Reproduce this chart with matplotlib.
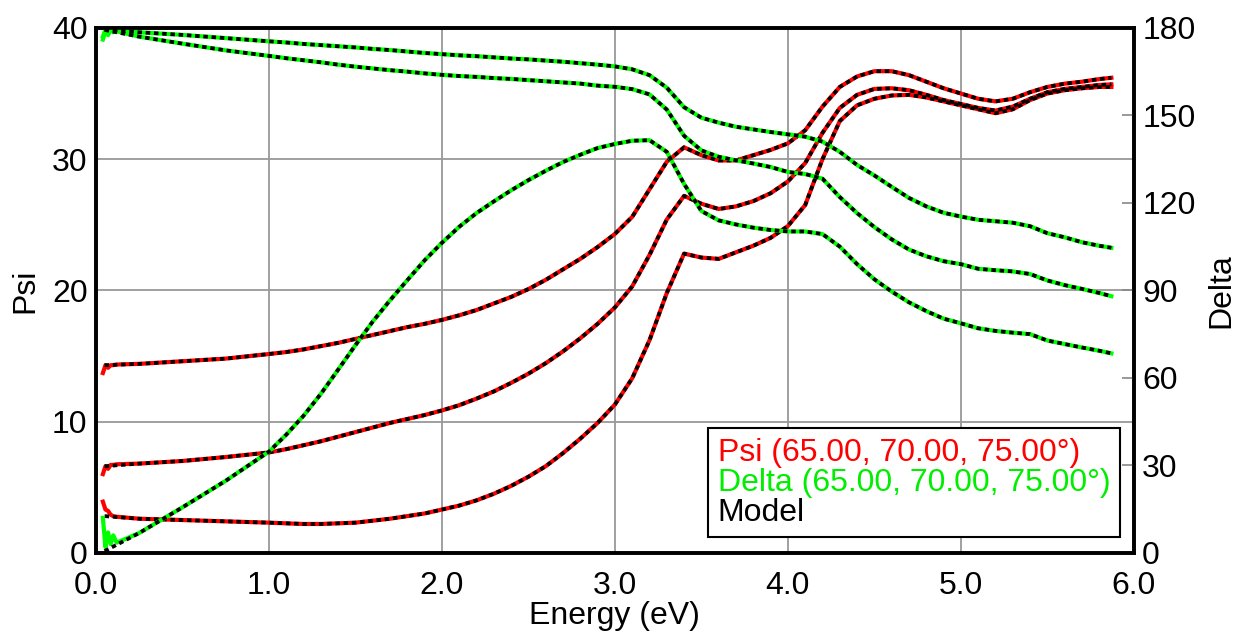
#!/usr/bin/env python3
import matplotlib
matplotlib.use("Agg")
import matplotlib.pyplot as plt
from matplotlib.lines import Line2D

plt.rcParams['font.family'] = ['Liberation Sans', 'DejaVu Sans']

# Photon energy (eV), shared by all curves
energy = [0.05, 0.25, 0.5, 0.75,
          1.0, 1.1, 1.2, 1.3, 1.4, 1.5, 1.6, 1.7, 1.8, 1.9,
          2.0, 2.1, 2.2, 2.3, 2.4, 2.5, 2.6, 2.7, 2.8, 2.9,
          3.0, 3.1, 3.2, 3.3, 3.4, 3.5, 3.6, 3.7, 3.8, 3.9,
          4.0, 4.1, 4.2, 4.3, 4.4, 4.5, 4.6, 4.7, 4.8, 4.9,
          5.0, 5.1, 5.2, 5.3, 5.4, 5.5, 5.6, 5.7, 5.8, 5.87]

# Psi (deg), three angles of incidence
psi_a = [14.3, 14.4, 14.6, 14.8,
         15.15, 15.3, 15.5, 15.75, 16.0, 16.3, 16.6, 16.9, 17.2, 17.45,
         17.75, 18.1, 18.5, 19.0, 19.5, 20.1, 20.8, 21.6, 22.4, 23.3,
         24.3, 25.6, 27.7, 29.8, 30.9, 30.3, 29.9, 29.9, 30.3, 30.7,
         31.2, 32.2, 34.0, 35.5, 36.3, 36.7, 36.7, 36.4, 35.9, 35.4,
         35.0, 34.6, 34.4, 34.6, 35.1, 35.5, 35.75, 35.9, 36.1, 36.2]
psi_b = [6.6, 6.8, 7.0, 7.3,
         7.65, 7.9, 8.2, 8.5, 8.85, 9.2, 9.55, 9.9, 10.2, 10.5,
         10.85, 11.25, 11.75, 12.3, 12.95, 13.65, 14.45, 15.35, 16.35, 17.45,
         18.7, 20.3, 22.7, 25.4, 27.2, 26.6, 26.2, 26.4, 26.8, 27.4,
         28.3, 29.7, 32.0, 33.9, 34.9, 35.35, 35.4, 35.25, 34.9, 34.5,
         34.2, 33.9, 33.7, 34.0, 34.6, 35.1, 35.35, 35.5, 35.65, 35.7]
psi_c = [2.8, 2.6, 2.5, 2.4,
         2.3, 2.25, 2.2, 2.2, 2.25, 2.3, 2.45, 2.6, 2.8, 3.0,
         3.3, 3.6, 4.0, 4.5, 5.1, 5.8, 6.6, 7.6, 8.7, 9.9,
         11.3, 13.3, 16.2, 19.8, 22.8, 22.5, 22.4, 22.9, 23.4, 24.0,
         24.9, 26.5, 30.0, 32.9, 34.1, 34.6, 34.85, 34.9, 34.7, 34.4,
         34.1, 33.8, 33.5, 33.8, 34.5, 35.0, 35.25, 35.4, 35.5, 35.5]

# Delta (deg), three angles of incidence
delta_a = [179.5, 178.5, 177.6, 176.5,
           175.4, 175.0, 174.5, 174.1, 173.7, 173.3, 172.8, 172.4, 171.9, 171.4,
           171.0, 170.6, 170.3, 169.9, 169.5, 169.2, 168.8, 168.4, 167.9, 167.4,
           166.8, 165.8, 163.8, 159.5, 152.8, 149.2, 147.5, 146.1, 145.2, 144.3,
           143.5, 142.7, 141.0, 137.5, 133.0, 129.4, 125.5, 121.7, 118.8, 116.6,
           115.3, 114.2, 113.7, 113.2, 112.0, 109.6, 108.2, 106.5, 105.3, 104.6]
delta_b = [179.3, 177.0, 174.6, 172.3,
           170.4, 169.6, 168.9, 168.2, 167.4, 166.7, 166.1, 165.5, 165.0, 164.4,
           163.9, 163.5, 163.2, 162.8, 162.5, 162.1, 161.7, 161.3, 160.9, 160.2,
           159.8, 159.0, 157.2, 152.0, 143.0, 138.0, 135.8, 134.6, 133.5, 132.3,
           130.6, 129.9, 128.3, 122.0, 116.5, 111.7, 107.5, 104.0, 101.7, 100.0,
           99.0, 97.4, 96.9, 96.5, 95.6, 93.4, 91.8, 90.5, 89.1, 88.0]
delta_c = [0.6, 6.8, 15.6, 24.7,
           34.7, 40.5, 47.0, 54.5, 62.8, 71.2, 79.3, 86.6, 93.5, 100.3,
           106.3, 111.8, 116.5, 120.5, 124.3, 127.8, 131.0, 134.0, 136.5, 138.8,
           140.2, 141.3, 141.5, 137.5, 126.5, 117.2, 114.0, 112.6, 111.5, 110.7,
           110.2, 110.2, 109.3, 105.0, 99.0, 93.8, 89.6, 85.9, 82.9, 80.3,
           78.7, 77.0, 76.1, 75.5, 75.0, 72.8, 71.6, 70.4, 69.3, 68.4]

# noisy measured data at the low-energy start
e_start = [0.04, 0.055, 0.07, 0.085, 0.1, 0.12]
psi_a_start = [13.7, 14.3, 14.1, 14.3, 14.3, 14.35]
psi_b_start = [6.0, 6.6, 6.4, 6.7, 6.7, 6.75]
psi_c_start = [3.9, 3.3, 3.2, 2.9, 2.8, 2.75]
delta_a_start = [176.0, 179.0, 177.5, 179.5, 178.5, 179.3]
delta_b_start = [177.0, 179.5, 178.0, 179.0, 179.3, 178.8]
delta_c_start = [12.0, 2.0, 7.0, 3.0, 6.0, 3.5]

legend_labels = ['Psi (65.00, 70.00, 75.00\u00b0)',
                 'Delta (65.00, 70.00, 75.00\u00b0)',
                 'Model']
legend_colors = ['#ff0000', '#00ee00', 'black']

RED = '#ff0000'
GREEN = '#00ff00'
FS = 23
model_style = dict(color='black', lw=2.7, linestyle=(0, (1.2, 1.0)))
data_style = dict(lw=3.0, solid_joinstyle='round')

fig = plt.figure(figsize=(12.46, 6.34), dpi=100)
ax = fig.add_axes([0.077, 0.128, 0.833, 0.828])
ax2 = ax.twinx()

# Psi: measured + model on the left axis
for start, vals in [(psi_a_start, psi_a), (psi_b_start, psi_b), (psi_c_start, psi_c)]:
    ax.plot(e_start + energy[1:], start + vals[1:], color=RED, **data_style)
for vals in [psi_a, psi_b, psi_c]:
    ax.plot(energy, vals, **model_style)

# Delta: measured + model on the right axis
for start, vals in [(delta_a_start, delta_a), (delta_b_start, delta_b), (delta_c_start, delta_c)]:
    ax2.plot(e_start + energy[1:], start + vals[1:], color=GREEN, **data_style)
for vals in [delta_a, delta_b, delta_c]:
    ax2.plot(energy, vals, **model_style)

ax.set_xlim(0, 6)
ax.set_ylim(0, 40)
ax2.set_ylim(0, 180)
ax.set_xticks([0, 1, 2, 3, 4, 5, 6])
ax.set_xticklabels(['0.0', '1.0', '2.0', '3.0', '4.0', '5.0', '6.0'])
ax.set_yticks([0, 10, 20, 30, 40])
ax2.set_yticks([0, 30, 60, 90, 120, 150, 180])

ax.grid(True, color='#999999', lw=1.3)
ax.tick_params(axis='y', length=0, labelsize=FS, pad=6)
ax.tick_params(axis='x', length=0, labelsize=FS, pad=13)
ax2.tick_params(axis='y', direction='in', length=9, width=1.2, color='#888888',
                labelsize=FS, pad=6)

for a in (ax, ax2):
    for s in a.spines.values():
        s.set_linewidth(2.6)

ax.set_xlabel('Energy (eV)', fontsize=FS, labelpad=0)
ax.set_ylabel('Psi', fontsize=FS, labelpad=8)
ax2.set_ylabel('Delta', fontsize=FS, labelpad=8)

handles = [Line2D([], [], lw=0) for _ in legend_labels]
leg = ax2.legend(handles, legend_labels, loc='lower right',
                 bbox_to_anchor=(0.9865, 0.03), fontsize=FS,
                 handlelength=0, handletextpad=0, fancybox=False,
                 framealpha=1, edgecolor='black', borderpad=0.3,
                 borderaxespad=0, labelspacing=0.0)
leg.get_frame().set_linewidth(1.5)
for txt, c in zip(leg.get_texts(), legend_colors):
    txt.set_color(c)

fig.savefig('out.png', dpi=100)
